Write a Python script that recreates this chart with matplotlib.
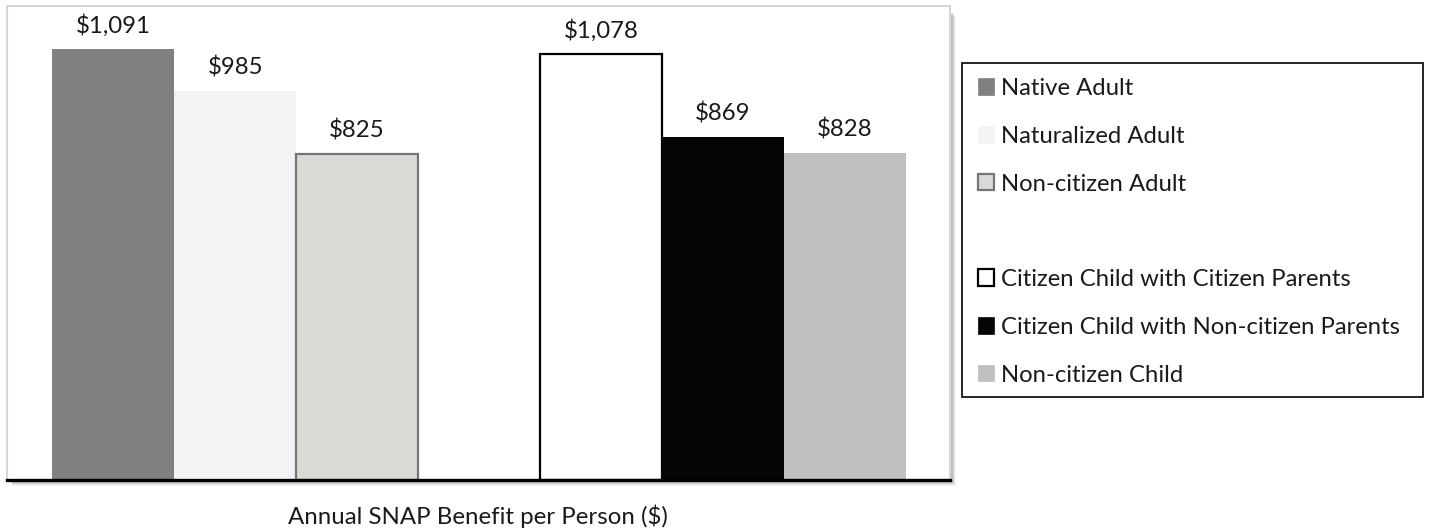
import matplotlib.pyplot as plt
from matplotlib.patches import Patch, Rectangle

plt.rcParams['font.family'] = ['Lato', 'DejaVu Sans']

# datos
categorias = ['Native Adult', 'Naturalized Adult', 'Non-citizen Adult',
              'Citizen Child with Citizen Parents',
              'Citizen Child with Non-citizen Parents', 'Non-citizen Child']
valores = [1091, 985, 825, 1078, 869, 828]
etiquetas = ['$1,091', '$985', '$825', '$1,078', '$869', '$828']
posiciones = [0, 1, 2, 4, 5, 6]

# estilos de cada barra
relleno = ['#808080', '#f2f3f5', '#d9d9d6', '#ffffff', '#050505', '#bfbfbf']
borde = ['#808080', '#f2f3f5', '#767676', '#000000', '#050505', '#bfbfbf']
grosor = [0, 0, 1.6, 1.6, 0, 0]

W, H = 1430, 531
fig = plt.figure(figsize=(W / 100, H / 100), dpi=100)

# sombra del area del grafico
for i, a in enumerate([0.10, 0.08, 0.06, 0.04]):
    d = i + 1
    fig.patches.append(Rectangle((12 / W, 1 - (482 + d) / H), (940 + d) / W, (470) / H,
                                 transform=fig.transFigure, facecolor='black',
                                 edgecolor='none', alpha=a, zorder=0))

ax = fig.add_axes([7 / W, 1 - 480 / H, 943 / W, 474 / H])
ax.set_facecolor('white')
ax.set_zorder(1)

for x, v, fc, ec, lw in zip(posiciones, valores, relleno, borde, grosor):
    ax.bar(x, v, width=1.0, color=fc, edgecolor=ec, linewidth=lw)

for x, v, t in zip(posiciones, valores, etiquetas):
    ax.annotate(t, xy=(x, v), xytext=(0, 17), textcoords='offset points',
                ha='center', va='center', fontsize=17.3, color='#1a1a1a')

ax.set_xlim(-0.87, 6.86)
ax.set_ylim(0, 1200)
ax.set_xticks([])
ax.set_yticks([])
for lado in ['left', 'top', 'right']:
    ax.spines[lado].set_color('#d6d6d6')
    ax.spines[lado].set_linewidth(1.5)
ax.spines['bottom'].set_color('black')
ax.spines['bottom'].set_linewidth(2.4)

fig.text(478 / W, 1 - 516 / H, 'Annual SNAP Benefit per Person ($)',
         ha='center', va='center', fontsize=17.3, color='#1a1a1a')

# caja de la leyenda
fig.patches.append(Rectangle((962 / W, 1 - 397 / H), 461 / W, 334 / H,
                             transform=fig.transFigure, facecolor='white',
                             edgecolor='black', linewidth=1.2, zorder=2))

manijas = []
nombres = []
for i in range(6):
    manijas.append(Patch(facecolor=relleno[i], edgecolor=borde[i],
                         linewidth=max(grosor[i], 0.5)))
    nombres.append(categorias[i])
    if i == 2:
        manijas.append(Patch(facecolor='none', edgecolor='none'))
        nombres.append(' ')

leg = fig.legend(manijas, nombres, loc='upper left',
                 bbox_to_anchor=(978 / W, 1 - 78 / H), frameon=False,
                 fontsize=17.2, handlelength=0.68, handleheight=0.68,
                 handletextpad=0.3, labelspacing=1.12, borderpad=0,
                 borderaxespad=0)
leg.set_zorder(3)
for t in leg.get_texts():
    t.set_color('#1a1a1a')

fig.savefig('out.png', dpi=100)
